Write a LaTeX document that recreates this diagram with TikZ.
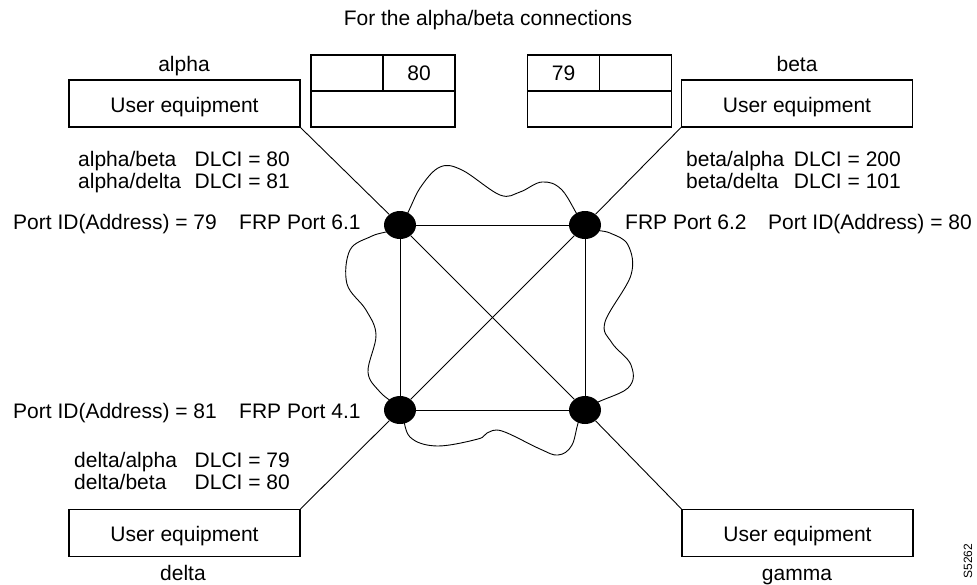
\documentclass[tikz,border=0pt]{standalone}
\usepackage{fontspec}
\setmainfont{Liberation Sans}
\usetikzlibrary{shapes.geometric}
\begin{document}
\begin{tikzpicture}[x=1pt,y=-1pt,
  every node/.style={font=\fontsize{21}{24}\selectfont, inner sep=0pt},
  lbl/.style={anchor=base},
  lblw/.style={anchor=base west},
  lble/.style={anchor=base east},
  ubox/.style={draw, line width=1.1pt, minimum width=231pt, minimum height=47pt},
  tbl/.style={draw, line width=1.1pt, minimum width=144pt, minimum height=72pt},
  port/.style={ellipse, fill=black, minimum width=32pt, minimum height=28pt},
  link/.style={line width=0.9pt},
  cloudline/.style={line width=0.9pt}
]
\useasboundingbox (0,0) rectangle (977,584);
\fill[white] (0,0) rectangle (977,584);

% title
\node[lbl] (title) at (488,25) {For the alpha/beta connections};

% user equipment boxes
\node[ubox] (ualpha) at (184.5,103.5) {};
\node[lbl] (ualphat) at (184.5,112.5) {User equipment};
\node[lbl] (alphan) at (184,71) {alpha};

\node[ubox] (ubeta) at (797,103.5) {};
\node[lbl] (ubetat) at (797,112.5) {User equipment};
\node[lbl] (betan) at (797,71) {beta};

\node[ubox] (udelta) at (184.5,533) {};
\node[lbl] (udeltat) at (184.5,541.5) {User equipment};
\node[lbl] (deltan) at (183,580) {delta};

\node[ubox] (ugamma) at (797.5,533) {};
\node[lbl] (ugammat) at (797.5,541.5) {User equipment};
\node[lbl] (gamman) at (797,580) {gamma};

% tables
\node[tbl] (tA) at (383,91) {};
\draw[line width=1.1pt] (tA.west) -- (tA.east);
\draw[line width=1.1pt] (tA.north) -- (tA.center);
\node[lbl] (tAn) at (419,80.5) {80};

\node[tbl] (tB) at (599.5,91) {};
\draw[line width=1.1pt] (tB.west) -- (tB.east);
\draw[line width=1.1pt] (tB.north) -- (tB.center);
\node[lbl] (tBn) at (563.5,80.5) {79};

% DLCI texts
\node[lblw] (a1) at (78,166) {alpha/beta};
\node[lble] (a1d) at (290,166) {DLCI = 80};
\node[lblw] (a2) at (78,188) {alpha/delta};
\node[lble] (a2d) at (290,188) {DLCI = 81};

\node[lblw] (b1) at (686,166) {beta/alpha};
\node[lble] (b1d) at (901,166) {DLCI = 200};
\node[lblw] (b2) at (686,188) {beta/delta};
\node[lble] (b2d) at (901,188) {DLCI = 101};

\node[lblw] (d1) at (74,467) {delta/alpha};
\node[lble] (d1d) at (290,467) {DLCI = 79};
\node[lblw] (d2) at (74,489) {delta/beta};
\node[lble] (d2d) at (290,489) {DLCI = 80};

% port labels
\node[lblw] (p1) at (13,229) {Port ID(Address) = 79};
\node[lblw] (p1f) at (239,229) {FRP Port 6.1};
\node[lblw] (p2f) at (625,229) {FRP Port 6.2};
\node[lble] (p2) at (972,229) {Port ID(Address) = 80};
\node[lblw] (p3) at (13,418) {Port ID(Address) = 81};
\node[lblw] (p3f) at (239,418) {FRP Port 4.1};

% cloud
\draw[cloudline] plot[smooth cycle, tension=0.6] coordinates {
 (400,225) (420,188) (440,167) (462,170) (500,195) (520,192) (542,182) (562,190) (585,225)
 (610,233) (628,245) (631,275) (605,322) (612,343) (631,365) (628,388) (585,410)
 (572,445) (558,455) (540,449) (502,431) (487,433) (478,439) (437,446) (410,437) (400,410)
 (380,392) (368,372) (376,335) (366,310) (347,284) (350,250) (372,236)
};

% port nodes
\node[port] (n1) at (400,225) {};
\node[port] (n2) at (585,225) {};
\node[port] (n3) at (400,410) {};
\node[port] (n4) at (585,410) {};

% links
\draw[link] (n1) -- (n2);
\draw[link] (n2) -- (n4);
\draw[link] (n4) -- (n3);
\draw[link] (n3) -- (n1);
\draw[link] (n1) -- (n4);
\draw[link] (n2) -- (n3);

\draw[link] (ualpha.south east) -- (n1);
\draw[link] (ubeta.south west) -- (n2);
\draw[link] (udelta.north east) -- (n3);
\draw[link] (ugamma.north west) -- (n4);

% figure id
\node[rotate=90, font=\fontsize{12}{14}\selectfont] (fid) at (968,561) {S5262};
\end{tikzpicture}
\end{document}
